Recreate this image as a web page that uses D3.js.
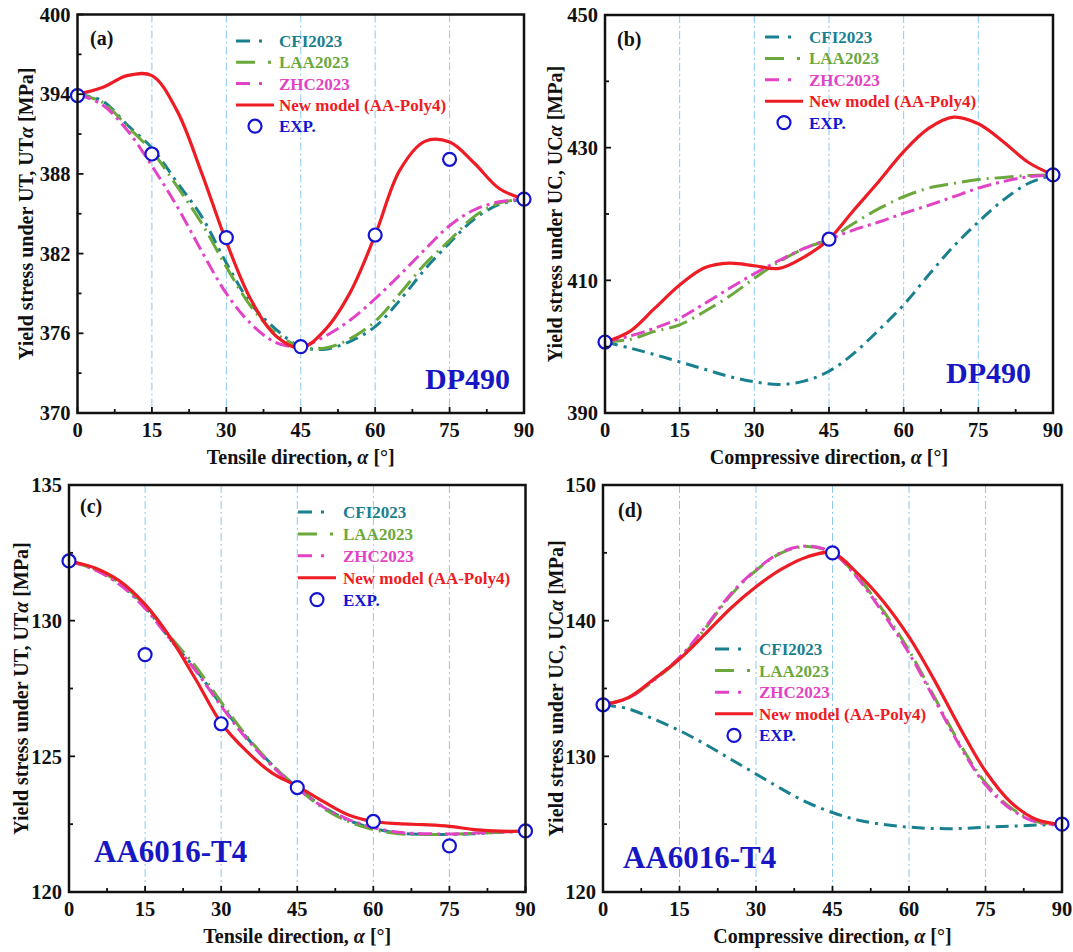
<!DOCTYPE html>
<html>
<head>
<meta charset="utf-8">
<script src="https://cdn.jsdelivr.net/npm/d3@7"></script>
<style>
  html, body { margin: 0; padding: 0; background: #fff; }
  svg { display: block; font-family: "Liberation Serif", "Times New Roman", serif; font-weight: bold; }
</style>
</head>
<body>
<svg id="chart" width="1073" height="952"></svg>
<script>
// ---- Data: yield stress vs. loading direction (deg) ----
const angles = [0, 5, 10, 15, 20, 25, 30, 35, 40, 45, 50, 55, 60, 65, 70, 75, 80, 85, 90];
const xTicks = [0, 15, 30, 45, 60, 75, 90];
const seriesNames = ["CFI2023", "LAA2023", "ZHC2023", "New model (AA-Poly4)", "EXP."];

// (a) DP490, uniaxial tension
const cfiA  = [394.0, 393.5, 391.7, 389.95, 387.4, 384.8, 381.3, 378.2, 376.3, 375.0, 374.8, 375.4, 376.5, 378.5, 380.8, 382.8, 384.6, 385.7, 386.1];
const laaA  = [394.0, 393.4, 391.6, 389.7, 387.1, 384.3, 381.0, 378.0, 376.0, 375.0, 374.9, 375.6, 376.9, 379.0, 381.2, 383.0, 384.8, 385.8, 386.1];
const zhcA  = [394.0, 393.2, 391.3, 388.6, 385.6, 382.2, 379.0, 376.7, 375.3, 375.0, 375.8, 377.0, 378.6, 380.4, 382.3, 384.1, 385.3, 385.9, 386.1];
const polyA = [394.0, 394.5, 395.4, 395.4, 392.8, 388.1, 382.9, 378.5, 375.8, 374.9, 376.3, 379.1, 383.4, 388.3, 390.45, 390.4, 388.8, 386.9, 386.1];
const expAngA = [0, 15, 30, 45, 60, 75, 90];
const expA    = [393.9, 389.5, 383.2, 375.0, 383.4, 389.1, 386.1];
const yTicksA = [370, 376, 382, 388, 394, 400];

// (b) DP490, uniaxial compression
const cfiB  = [400.7, 399.8, 398.8, 397.7, 396.6, 395.5, 394.7, 394.3, 394.8, 396.3, 399.0, 402.5, 406.3, 410.8, 415.1, 418.8, 422.1, 424.6, 425.9];
const laaB  = [400.7, 401.1, 402.3, 403.3, 405.3, 407.6, 410.3, 412.8, 414.8, 416.2, 418.6, 420.8, 422.6, 423.9, 424.6, 425.2, 425.5, 425.8, 425.9];
const zhcB  = [400.7, 401.6, 402.8, 404.3, 406.5, 408.8, 411.0, 413.0, 414.8, 416.2, 417.6, 418.8, 420.1, 421.3, 422.6, 423.9, 424.9, 425.6, 425.9];
const polyB = [400.7, 402.3, 405.8, 409.3, 411.9, 412.6, 412.2, 411.8, 413.5, 416.2, 420.6, 424.9, 429.4, 432.9, 434.6, 433.6, 430.9, 427.8, 425.9];
const expAngB = [0, 45, 90];
const expB    = [400.7, 416.2, 425.9];
const yTicksB = [390, 410, 430, 450];

// (c) AA6016-T4, uniaxial tension
const cfiC  = [132.2, 131.9, 131.35, 130.5, 129.3, 128.2, 126.9, 125.7, 124.7, 123.85, 123.15, 122.65, 122.35, 122.17, 122.12, 122.12, 122.15, 122.2, 122.24];
const laaC  = [132.2, 131.9, 131.4, 130.55, 129.4, 128.3, 127.0, 125.75, 124.7, 123.85, 123.1, 122.6, 122.3, 122.15, 122.12, 122.13, 122.16, 122.2, 122.24];
const zhcC  = [132.2, 131.88, 131.33, 130.45, 129.3, 128.15, 126.85, 125.65, 124.65, 123.82, 123.15, 122.68, 122.38, 122.2, 122.15, 122.14, 122.17, 122.21, 122.24];
const polyC = [132.2, 131.95, 131.46, 130.6, 129.37, 127.83, 126.23, 125.19, 124.39, 123.9, 123.35, 122.85, 122.6, 122.52, 122.48, 122.42, 122.3, 122.24, 122.24];
const expAngC = [0, 15, 30, 45, 60, 75, 90];
const expC    = [132.2, 128.75, 126.2, 123.85, 122.6, 121.7, 122.25];
const yTicksC = [120, 125, 130, 135];

// (d) AA6016-T4, uniaxial compression
const cfiD  = [133.8, 133.5, 132.74, 131.9, 130.9, 129.8, 128.7, 127.6, 126.6, 125.86, 125.3, 124.98, 124.78, 124.68, 124.68, 124.78, 124.85, 124.93, 124.98];
const laaD  = [133.8, 134.3, 135.6, 137.2, 139.4, 141.85, 143.7, 145.0, 145.47, 145.0, 143.2, 140.7, 137.8, 134.35, 130.9, 128.05, 126.2, 125.2, 124.98];
const zhcD  = [133.8, 134.3, 135.65, 137.3, 139.5, 141.95, 143.75, 145.05, 145.5, 145.0, 143.1, 140.5, 137.6, 134.2, 130.75, 127.9, 126.1, 125.15, 124.98];
const polyD = [133.8, 134.34, 135.7, 137.17, 139.0, 140.9, 142.5, 143.8, 144.7, 145.0, 143.45, 141.4, 138.8, 135.6, 132.1, 128.9, 126.6, 125.35, 124.98];
const expAngD = [0, 45, 90];
const expD    = [133.8, 145.0, 125.0];
const yTicksD = [120, 130, 140, 150];

// ---- Styles ----
const colors = { cfi: "#18808f", laa: "#6aa83c", zhc: "#e243c6", poly: "#ee1c25", exp: "#1414d2", mat: "#1717c4" };
const dashes = { cfi: "13,6,3,6", laa: "19,6,2,6", zhc: "14,5,3,5", poly: null };

// ---- Panel layout ----
const panels = [
  { tag: "(a)", box: [77.5, 524, 14.5, 413], yTicks: yTicksA, minor: 3,
    cfi: cfiA, laa: laaA, zhc: zhcA, poly: polyA, expAng: expAngA, exp: expA,
    load: "UT", xTitle: "Tensile direction, ", mat: "DP490", matPos: [510, 389, "end"], matSize: 30,
    tagPos: [90, 45], legend: { sx: 236, tx: 279, y0: 41, dy: 21.3 }, yTitleOff: 45 },
  { tag: "(b)", box: [605, 1053, 15, 413], yTicks: yTicksB, minor: 10,
    cfi: cfiB, laa: laaB, zhc: zhcB, poly: polyB, expAng: expAngB, exp: expB,
    load: "UC", xTitle: "Compressive direction, ", mat: "DP490", matPos: [1031, 383, "end"], matSize: 30,
    tagPos: [617, 45.5], legend: { sx: 765, tx: 809, y0: 37, dy: 21.4 }, yTitleOff: 43 },
  { tag: "(c)", box: [69, 525.5, 485, 892], yTicks: yTicksC, minor: 2.5,
    cfi: cfiC, laa: laaC, zhc: zhcC, poly: polyC, expAng: expAngC, exp: expC,
    load: "UT", xTitle: "Tensile direction, ", mat: "AA6016-T4", matPos: [94, 862, "start"], matSize: 31,
    tagPos: [80, 513], legend: { sx: 298, tx: 343, y0: 512, dy: 21.9 }, yTitleOff: 41 },
  { tag: "(d)", box: [603, 1062, 485, 892], yTicks: yTicksD, minor: 5,
    cfi: cfiD, laa: laaD, zhc: zhcD, poly: polyD, expAng: expAngD, exp: expD,
    load: "UC", xTitle: "Compressive direction, ", mat: "AA6016-T4", matPos: [623, 868, "start"], matSize: 31,
    tagPos: [618, 516.5], legend: { sx: 715, tx: 759, y0: 649, dy: 21.6 }, yTitleOff: 40 }
];

const svg = d3.select("#chart");

panels.forEach((p, i) => {
  const [l, r, t, b] = p.box;
  const x = d3.scaleLinear().domain([0, 90]).range([l, r]);
  const yDom = d3.extent(p.yTicks);
  const y = d3.scaleLinear().domain(yDom).range([b, t]);
  const g = svg.append("g");

  const clipId = "clip" + i;
  svg.append("clipPath").attr("id", clipId)
    .append("rect").attr("x", l).attr("y", t).attr("width", r - l).attr("height", b - t);

  // vertical guide lines
  g.append("g").selectAll("line").data(xTicks.slice(1, -1)).join("line")
    .attr("x1", d => x(d)).attr("x2", d => x(d))
    .attr("y1", t).attr("y2", b)
    .attr("stroke", "#8cc8f2").attr("stroke-width", 1)
    .attr("stroke-dasharray", "8,3,2,3");

  // model curves
  const line = d3.line()
    .x((d, k) => x(angles[k]))
    .y(d => y(d))
    .curve(d3.curveCatmullRom.alpha(0.5));
  const curves = g.append("g").attr("clip-path", `url(#${clipId})`);
  ["cfi", "laa", "zhc", "poly"].forEach(key => {
    curves.append("path")
      .attr("d", line(p[key]))
      .attr("fill", "none")
      .attr("stroke", colors[key])
      .attr("stroke-width", key === "poly" ? 3.2 : 3)
      .attr("stroke-dasharray", dashes[key])
      .attr("stroke-linecap", "butt");
  });

  // experimental points
  g.append("g").selectAll("circle").data(p.exp).join("circle")
    .attr("cx", (d, k) => x(p.expAng[k]))
    .attr("cy", d => y(d))
    .attr("r", 6.5)
    .attr("fill", "#fff")
    .attr("stroke", colors.exp)
    .attr("stroke-width", 2.2);

  // axes: inward ticks, labels outside
  const xMinor = d3.range(7.5, 90, 15);
  const yMinor = d3.range(yDom[0] + p.minor, yDom[1], p.minor * 2);
  const tg = g.append("g").attr("stroke", "#111").attr("stroke-width", 1.8);
  tg.selectAll(".xt").data(xTicks).join("line")
    .attr("x1", d => x(d)).attr("x2", d => x(d)).attr("y1", b).attr("y2", b - 6);
  tg.selectAll(".xm").data(xMinor).join("line")
    .attr("x1", d => x(d)).attr("x2", d => x(d)).attr("y1", b).attr("y2", b - 4);
  tg.selectAll(".yt").data(p.yTicks).join("line")
    .attr("y1", d => y(d)).attr("y2", d => y(d)).attr("x1", l).attr("x2", l + 6);
  tg.selectAll(".ym").data(yMinor).join("line")
    .attr("y1", d => y(d)).attr("y2", d => y(d)).attr("x1", l).attr("x2", l + 4);

  g.append("g").selectAll("text").data(xTicks).join("text")
    .attr("x", d => x(d)).attr("y", b + 24)
    .attr("text-anchor", "middle").attr("font-size", 20.5).attr("fill", "#111")
    .text(d => d);
  g.append("g").selectAll("text").data(p.yTicks).join("text")
    .attr("x", l - 7).attr("y", d => y(d)).attr("dy", "0.35em")
    .attr("text-anchor", "end").attr("font-size", 20.5).attr("fill", "#111")
    .text(d => d);

  // frame
  g.append("rect").attr("x", l).attr("y", t).attr("width", r - l).attr("height", b - t)
    .attr("fill", "none").attr("stroke", "#111").attr("stroke-width", 2.5);

  // axis titles
  const xt = g.append("text").attr("x", (l + r) / 2).attr("y", b + 51)
    .attr("text-anchor", "middle").attr("font-size", 20).attr("fill", "#111");
  xt.append("tspan").text(p.xTitle);
  xt.append("tspan").attr("font-style", "italic").text("α");
  xt.append("tspan").text(" [°]");

  const yt = g.append("text")
    .attr("transform", `translate(${l - p.yTitleOff},${(t + b) / 2}) rotate(-90)`)
    .attr("text-anchor", "middle").attr("font-size", 20).attr("fill", "#111");
  yt.append("tspan").text(`Yield stress under ${p.load}, ${p.load}`);
  yt.append("tspan").attr("font-style", "italic").text("α");
  yt.append("tspan").text(" [MPa]");

  // panel tag and material name
  g.append("text").attr("x", p.tagPos[0]).attr("y", p.tagPos[1])
    .attr("font-size", 20).attr("fill", "#111").text(p.tag);
  g.append("text").attr("x", p.matPos[0]).attr("y", p.matPos[1])
    .attr("text-anchor", p.matPos[2]).attr("font-size", p.matSize).attr("fill", colors.mat)
    .text(p.mat);

  // legend
  const lg = p.legend;
  const keys = ["cfi", "laa", "zhc", "poly", "exp"];
  keys.forEach((key, k) => {
    const yy = lg.y0 + k * lg.dy;
    if (key === "exp") {
      g.append("circle").attr("cx", lg.sx + 19).attr("cy", yy).attr("r", 6.5)
        .attr("fill", "#fff").attr("stroke", colors.exp).attr("stroke-width", 2.2);
    } else {
      g.append("line").attr("x1", lg.sx).attr("x2", lg.sx + 38).attr("y1", yy).attr("y2", yy)
        .attr("stroke", colors[key]).attr("stroke-width", 3)
        .attr("stroke-dasharray", key === "poly" ? null : (key === "laa" ? "19,13,3,6" : "14,9,3,20"));
    }
    g.append("text").attr("x", lg.tx).attr("y", yy).attr("dy", "0.35em")
      .attr("font-size", 17).attr("fill", colors[key]).text(seriesNames[k]);
  });
});
</script>
</body>
</html>
